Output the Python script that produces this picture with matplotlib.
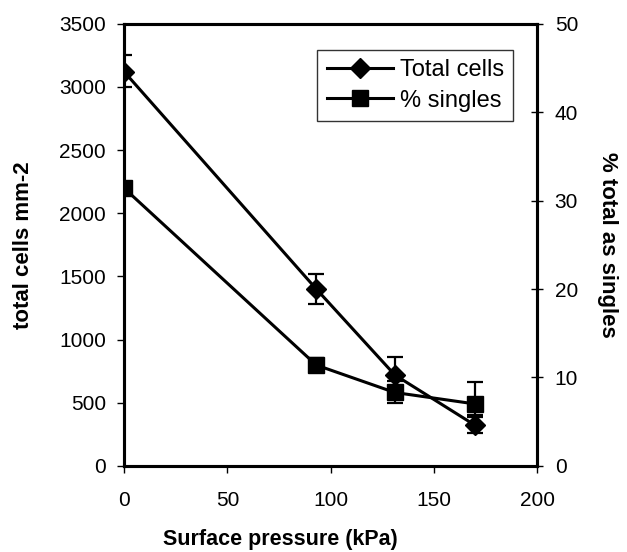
import matplotlib
matplotlib.use("Agg")
import matplotlib.pyplot as plt

# surface pressure (kPa)
pressure = [0, 93, 131, 170]
# total cells mm-2 with error bars
total_cells = [3120, 1400, 720, 320]
total_err_lo = [120, 120, 130, 60]
total_err_hi = [130, 120, 140, 70]
# % total as singles with error bars
singles = [31.4, 11.4, 8.3, 7.0]
singles_err_lo = [0.5, 0.8, 1.2, 1.3]
singles_err_hi = [0.5, 0.8, 1.3, 2.5]

plt.rcParams["font.family"] = ["Liberation Sans", "DejaVu Sans"]


def mk_plot():
    fig = plt.figure(figsize=(6.27, 5.52), dpi=100)
    ax = fig.add_axes([0.198, 0.156, 0.659, 0.801])
    ax2 = ax.twinx()

    l1 = ax.errorbar(pressure, total_cells, yerr=[total_err_lo, total_err_hi],
                     color="black", lw=2.2, marker="D", ms=10, capsize=6,
                     elinewidth=1.6, capthick=1.6)
    l2 = ax2.errorbar(pressure, singles, yerr=[singles_err_lo, singles_err_hi],
                      color="black", lw=2.2, marker="s", ms=11, capsize=6,
                      elinewidth=1.6, capthick=1.6)

    ax.set_xlim(0, 200)
    ax.set_ylim(0, 3500)
    ax2.set_ylim(0, 50)
    ax.set_xticks(range(0, 201, 50))
    ax.set_yticks(range(0, 3501, 500))
    ax2.set_yticks(range(0, 51, 10))

    for a in (ax, ax2):
        for sp in a.spines.values():
            sp.set_linewidth(2.2)
    ax.tick_params(axis="both", labelsize=15, length=5, width=1, direction="out", pad=8)
    ax2.tick_params(axis="y", labelsize=15, length=9, width=1, direction="inout", pad=8)
    ax.tick_params(axis="x", pad=13)

    # x label sits left of the axis centre in the original
    ax.set_xlabel("Surface pressure (kPa)", fontsize=15.5, fontweight="bold")
    ax.xaxis.set_label_coords(0.378, -0.143)
    ax.set_ylabel("total cells mm-2", fontsize=16, fontweight="bold", labelpad=18)
    ax2.set_ylabel("% total as singles", fontsize=16, fontweight="bold",
                   rotation=-90, labelpad=29)

    leg = ax.legend([l1[0], l2[0]], ["Total cells", "% singles"], loc="upper right",
                    bbox_to_anchor=(0.942, 0.941), borderaxespad=0, fontsize=17,
                    frameon=True, fancybox=False, edgecolor="black",
                    handlelength=2.8, borderpad=0.4, labelspacing=0.35,
                    handletextpad=0.3)
    leg.get_frame().set_linewidth(1)
    fig.savefig("out.png", dpi=100)


if __name__ == "__main__":
    mk_plot()
